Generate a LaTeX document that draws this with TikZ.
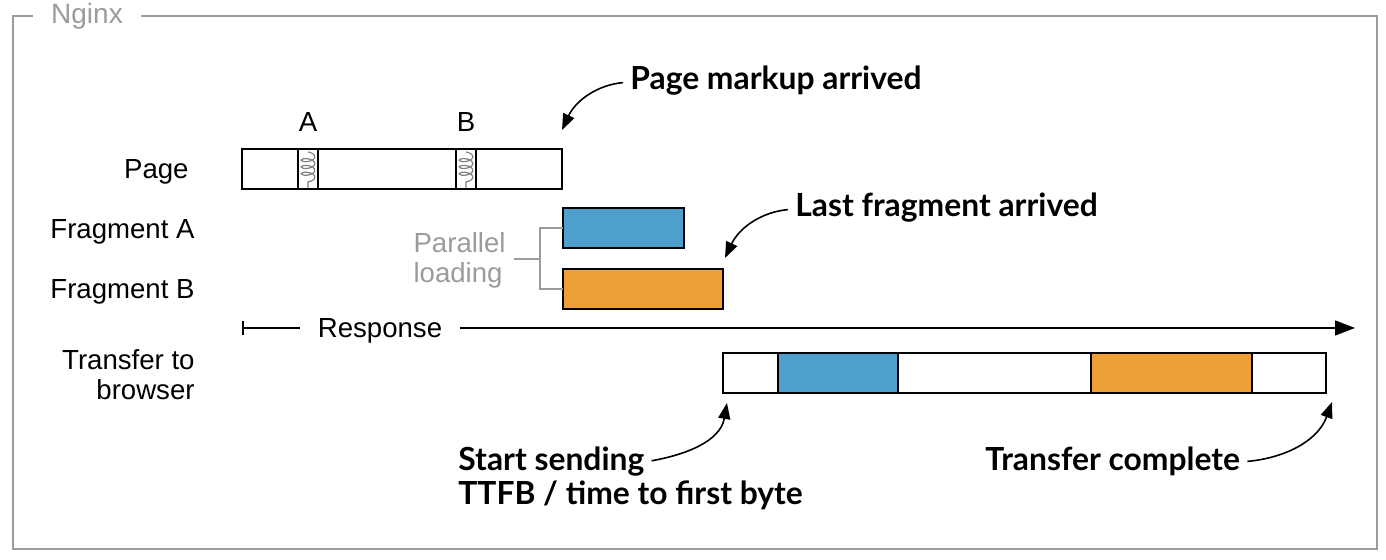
\documentclass[tikz,border=0pt]{standalone}
\usepackage{fontspec}
\setmainfont{Liberation Sans}
\newfontfamily\calloutfont{Lato}
\usetikzlibrary{positioning,arrows.meta,decorations.pathmorphing}

\definecolor{fragblue}{HTML}{4E9FCC}
\definecolor{fragorange}{HTML}{EE9F38}
\definecolor{boxgray}{HTML}{9B9B9B}

\tikzset{
  bar/.style={draw, line width=0.9pt, anchor=north west, minimum height=20pt, inner sep=0pt, outer sep=0pt},
  slot/.style={bar, minimum width=10pt},
  labelfont/.style={font=\fontsize{13.8}{15}\selectfont},
  rowlabel/.style={labelfont, anchor=east, align=right, inner sep=0pt},
  callout/.style={anchor=base west, inner sep=0pt, font=\calloutfont\bfseries\fontsize{15.9}{20}\selectfont},
  pointer/.style={-{Triangle[length=8pt,width=6pt]}, line width=0.8pt, shorten <=3.5pt},
  spring/.style={decorate, decoration={coil, amplitude=3.4pt, segment length=3.4pt, aspect=0.45}, draw=gray, line width=0.6pt},
  bracket/.style={draw=boxgray, line width=0.8pt},
}

\begin{document}
\begin{tikzpicture}[x=0.5pt, y=0.5pt]
  \useasboundingbox (0,0) rectangle (1386,560);

  % Set up the frame
  \node[text=boxgray, font=\fontsize{14}{17}\selectfont, inner xsep=9pt] (nginx) at (87,544) {Nginx};
  \draw[boxgray, line width=1pt] (nginx.east) -- (1377,544) -- (1377,11) -- (13,11) -- (13,544) -- (nginx.west);

  % Set up the rows
  \node[rowlabel] (lpage) at (189,388) {Page};
  \node[rowlabel] (lfraga) at (195,328) {Fragment A};
  \node[rowlabel] (lfragb) at (195,268) {Fragment B};
  \node[rowlabel] (ltransfer) at (195,185) {Transfer to\\browser};

  % Page with its two slots
  \node[bar, minimum width=160pt] (page) at (242,411) {};
  \node[slot] (slota) at (298,411) {};
  \node[slot] (slotb) at (456,411) {};
  \draw[spring] ([yshift=-1.5pt]slota.north) -- ([yshift=0.5pt]slota.south);
  \draw[spring] ([yshift=-1.5pt]slotb.north) -- ([yshift=0.5pt]slotb.south);
  \node[labelfont, above=5pt of slota] (la) {A};
  \node[labelfont, above=5pt of slotb] (lb) {B};

  % Fragments
  \node[bar, fill=fragblue, minimum width=60.5pt] (fraga) at (563,352) {};
  \node[bar, fill=fragorange, minimum width=80pt] (fragb) at (563,291) {};
  \node[labelfont, text=boxgray, anchor=east, align=left, inner sep=4pt] (parallel) at (514,300) {Parallel\\loading};
  \coordinate (fork) at (540,301);
  \draw[bracket] (fraga.west) -| (fork) |- (fragb.west);
  \draw[bracket] (parallel.east |- fork) -- (fork);

  % Response
  \coordinate (respstart) at (242,232);
  \coordinate (respend) at (1355,232);
  \node[labelfont, inner xsep=8.5pt] (response) at (380,229) {Response};
  \draw[{Bar[width=7pt]}-, line width=0.8pt] (respstart) -- (respstart -| response.west);
  \draw[-{Triangle[length=10pt,width=7.5pt]}, line width=0.8pt] (respstart -| response.east) -- (respend);

  % Transfer to browser
  \node[bar, minimum width=301.5pt] (transfer) at (723,207) {};
  \node[bar, fill=fragblue, minimum width=60pt] (tblue) at (778,207) {};
  \node[bar, fill=fragorange, minimum width=80.5pt] (torange) at (1091,207) {};

  % Callouts
  \node[callout] (markup) at (630,470) {Page markup arrived};
  \node[callout] (last) at (795,343) {Last fragment arrived};
  \node[callout] (start) at (458,89) {Start sending};
  \node[callout] (ttfb) at (458,55) {TTFB / time to first byte};
  \node[callout] (complete) at (985,89) {Transfer complete};

  % Add the arrows
  \draw[pointer] ([yshift=4pt]markup.base west) to[out=185, in=65] ([yshift=9.5pt]page.north east);
  \draw[pointer] ([yshift=4pt]last.base west) to[out=185, in=65] ([xshift=1pt,yshift=5.5pt]fragb.north east);
  \draw[pointer] ([yshift=4.5pt]start.base east) to[out=10, in=-100] ([xshift=2pt,yshift=-5pt]transfer.south west);
  \draw[pointer] ([yshift=4.5pt]complete.base east) to[out=5, in=-110] ([xshift=3pt,yshift=-4.5pt]transfer.south east);
\end{tikzpicture}
\end{document}
